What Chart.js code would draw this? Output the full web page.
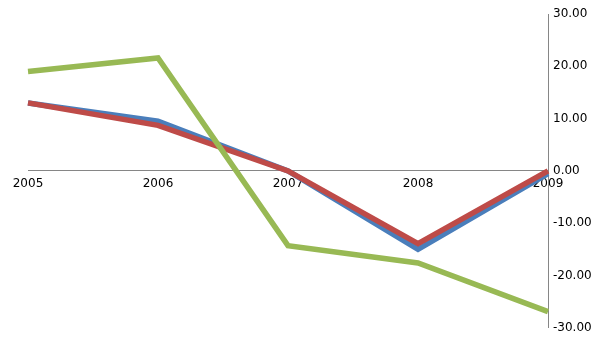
<!DOCTYPE html>
<html>
<head>
<meta charset="utf-8">
<script src="https://cdn.jsdelivr.net/npm/chart.js@4"></script>
<style>
  html, body { margin: 0; padding: 0; background: #fff; }
  #wrap { width: 605px; height: 340px; }
</style>
</head>
<body>
<div id="wrap"><canvas id="chart" width="605" height="340"></canvas></div>
<script>
// Data
const years = ['2005', '2006', '2007', '2008', '2009'];
const blueSeries = [13.0, 9.5, 0.0, -15.0, -0.5];
const redSeries = [13.0, 8.7, 0.0, -13.9, 0.0];
const greenSeries = [19.0, 21.6, -14.3, -17.6, -26.9];

// Axis range and step
const yMin = -30;
const yMax = 30;
const yStep = 10;

const axisColor = '#868686';

// order: lower number is drawn on top
function lineSet(label, data, color, order) {
    return {
        label: label,
        data: data,
        borderColor: color,
        backgroundColor: color,
        borderWidth: 5.5,
        pointRadius: 0,
        tension: 0,
        fill: false,
        order: order
    };
}

const ctx = document.getElementById('chart').getContext('2d');
new Chart(ctx, {
    type: 'line',
    data: {
        labels: years,
        datasets: [
            lineSet('Series 1', blueSeries, '#4a7ebb', 3),
            lineSet('Series 2', redSeries, '#be4b48', 2),
            lineSet('Series 3', greenSeries, '#98b954', 1)
        ]
    },
    options: {
        responsive: false,
        animation: false,
        layout: { padding: { left: 28, top: 14, bottom: 11, right: 0 } },
        scales: {
            x: {
                type: 'category',
                offset: false,
                position: { y: 0 },
                grid: { display: false, drawTicks: false },
                border: { display: true, color: axisColor, width: 1 },
                ticks: {
                    color: '#000',
                    font: { family: 'DejaVu Sans', size: 12 },
                    padding: 6,
                    maxRotation: 0
                }
            },
            y: {
                position: 'right',
                min: yMin,
                max: yMax,
                grid: { display: false, drawTicks: false },
                border: { display: true, color: axisColor, width: 1 },
                ticks: {
                    stepSize: yStep,
                    color: '#000',
                    font: { family: 'DejaVu Sans', size: 12 },
                    padding: 5,
                    callback: v => v.toFixed(2)
                },
                afterFit: scale => { scale.width = 57; }
            }
        },
        plugins: {
            legend: { display: false },
            tooltip: { enabled: false }
        }
    }
});
</script>
</body>
</html>
